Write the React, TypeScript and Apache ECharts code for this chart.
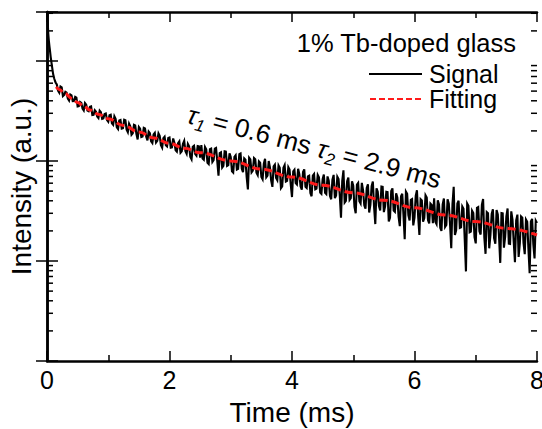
import React, { useEffect, useRef } from 'react';
import * as echarts from 'echarts';

const FONT = '"Liberation Sans", Arial, Helvetica, sans-serif';

// Axis ranges / ticks
const X_MIN = 0;
const X_MAX = 8;
const X_INTERVAL = 2;
const Y_MIN = 1;
const Y_MAX = 3090;
const yMinorTicks = [2, 3, 4, 5, 6, 7, 8, 9, 20, 30, 40, 50, 60, 70, 80, 90, 200, 300, 400, 500, 600, 700, 800, 900, 2000, 3000];

// Measured signal: initial spike (time in ms, intensity a.u.)
const signalHeadTime = [0, 0.01, 0.02, 0.03, 0.04, 0.05, 0.06, 0.08, 0.1, 0.12, 0.14];
const signalHead = [5000, 2600, 1900, 1600, 1400, 1250, 1100, 900, 740, 660, 610];

// Measured signal sampled every 0.02 ms from 0.16 ms:
// "on" samples at 0.16 + 0.04k, "mid" samples at 0.18 + 0.04k
const signalStart = 0.16;
const signalStep = 0.02;
const signalOnA = [582, 483, 545, 457, 482, 403, 454, 398, 430, 353, 382, 321, 366, 315, 351, 290, 310, 269, 308, 267, 299, 247];
const signalOnB = [290, 230, 264, 209, 257, 213, 256, 194, 222, 189, 227, 164, 211, 176, 212, 161, 190, 151, 191, 159, 179, 136, 175, 140, 172, 137, 152, 124, 157, 125, 159, 118, 140, 104, 142, 113, 140];
const signalOnC = [144, 103, 131, 93.3, 133, 102, 135, 71.4, 122, 89.3, 124, 90.8, 110, 76.7, 114, 83.6, 119, 77.4, 103, 52.0, 104, 80.0, 104, 72.4, 96.2, 65.6, 105, 71.4, 86.5, 55.1, 92.0, 64.3, 85.3, 55.6, 90.8, 63.4, 82.2, 43.6, 81.7, 58.3, 74.0, 51.6, 82.4, 53.7, 71.3, 44.4, 74.1, 53.0, 68.7, 46.9];
const signalOnD = [73.3, 46.7, 63.5, 41.4, 72.6, 45.2, 65.9, 27.1, 80.7, 39.9, 68.4, 42.6, 56.6, 30.0, 60.4, 37.6, 51.2, 33.3, 58.5, 36.4, 62.4, 23.4, 49.3, 32.1, 55.1, 35.1, 48.9, 27.1, 53.3, 31.0, 43.2, 22.3, 47.1, 16.5, 46.9, 25.4, 41.6, 27.1, 50.9, 18.2, 40.3, 26.9, 43.0, 23.8, 36.4];
const signalOnE = [42.3, 23.4, 36.7, 20.0, 42.1, 22.9, 37.5, 13.4, 55.3, 20.3, 40.0, 21.7, 33.2, 7.87, 35.6, 19.7, 30.2, 15.0, 34.6, 18.4, 41.6, 11.8, 30.1, 18.3, 32.9, 14.9, 29.2, 9.57, 29.9, 17.4, 33.5, 14.8, 25.9, 9.75, 29.1, 15.1, 27.1, 11.7, 24.7, 7.53, 26.4, 10.6, 24.0];
const signalMidA = [507, 556, 445, 491, 421, 463, 397, 438, 351, 389, 335, 380, 320, 348, 288, 321, 279, 319, 264, 295, 256, 287];
const signalMidB = [238, 280, 217, 254, 211, 259, 206, 236, 183, 230, 186, 219, 174, 215, 175, 197, 157, 184, 153, 189, 144, 169, 144, 170, 136, 168, 128, 151, 121, 149, 125, 148, 110, 139, 117, 141, 108];
const signalMidC = [106, 138, 96.2, 131, 97.7, 133, 99.3, 120, 85.9, 125, 89.3, 119, 79.1, 110, 82.2, 117, 83.6, 106, 69.0, 108, 76.9, 107, 76.4, 99.2, 69.2, 94.1, 68.7, 100, 63.7, 88.6, 67.8, 90.1, 53.5, 85.4, 62.4, 86.8, 57.8, 78.6, 60.1, 83.6, 55.7, 77.5, 55.3, 70.2, 47.9, 71.4, 52.1, 72.5, 48.3, 65.8];
const signalMidD = [48.1, 70.1, 44.7, 65.2, 42.5, 69.5, 45.3, 63.1, 38.4, 62.8, 40.9, 62.5, 34.7, 58.1, 39.6, 60.5, 36.0, 53.7, 30.5, 56.0, 34.8, 53.2, 35.5, 55.5, 30.8, 49.2, 24.9, 50.1, 31.9, 47.6, 27.7, 44.3, 28.8, 49.4, 28.7, 40.9, 22.7, 44.7, 27.8, 41.5, 24.7, 45.3, 25.7, 37.5, 23.9];
const signalMidE = [24.7, 40.5, 21.5, 36.9, 21.9, 41.4, 23.5, 36.8, 18.2, 37.6, 21.4, 35.0, 16.5, 37.5, 19.4, 31.8, 17.3, 34.0, 19.8, 36.4, 17.2, 30.9, 13.4, 29.5, 16.8, 32.3, 17.5, 30.1, 13.6, 28.0, 14.9, 31.4, 15.5, 25.5, 11.0, 27.9, 15.2, 26.0, 13.2, 24.8, 14.7, 25.3];

// Bi-exponential fitting curve
const fitTime = [0.15, 0.2, 0.3, 0.4, 0.5, 0.6, 0.7, 0.85, 1.0, 1.25, 1.5, 1.75, 2.0, 2.25, 2.5, 3.0, 3.5, 4.0, 4.5, 5.0, 5.5, 6.0, 6.5, 7.0, 7.5, 8.0];
const fitValue = [550, 518, 470, 424, 385, 352, 324, 292, 265, 226, 195, 170, 150, 134, 121, 100.2, 83.2, 69.0, 57.1, 48.1, 40.5, 34.0, 28.9, 24.8, 21.2, 18.2];

const seriesNames = ['Signal', 'Fitting'];
const titleText = '1% Tb-doped glass';

export default function App() {
  const ref = useRef<HTMLDivElement>(null);

  useEffect(() => {
    document.body.style.margin = '0';
    if (!ref.current) return;
    const chart = echarts.init(ref.current, undefined, { renderer: 'svg' });

    const on = [...signalOnA, ...signalOnB, ...signalOnC, ...signalOnD, ...signalOnE];
    const mid = [...signalMidA, ...signalMidB, ...signalMidC, ...signalMidD, ...signalMidE];
    const body: number[] = [];
    on.forEach((v, i) => {
      body.push(v);
      if (i < mid.length) body.push(mid[i]);
    });
    const signalData: number[][] = signalHeadTime.map((t, i) => [t, signalHead[i]]);
    body.forEach((v, i) => signalData.push([+(signalStart + i * signalStep).toFixed(2), v]));
    const fitData = fitTime.map((t, i) => [t, fitValue[i]]);

    const axisLine = { show: true, lineStyle: { color: '#000', width: 2.5 } };
    const tickStyle = { color: '#000', width: 1.5 };

    const option: any = {
      animation: false,
      backgroundColor: '#fff',
      grid: { left: 47, right: 5, top: 12, bottom: 68, containLabel: false, outerBoundsMode: 'none' },
      xAxis: [
        {
          type: 'value',
          min: X_MIN,
          max: X_MAX,
          interval: X_INTERVAL,
          position: 'bottom',
          name: 'Time (ms)',
          nameLocation: 'middle',
          nameGap: 37,
          nameTextStyle: { fontSize: 28, fontFamily: FONT, color: '#000' },
          axisLine,
          axisTick: { show: true, inside: true, length: 10, lineStyle: tickStyle },
          minorTick: { show: true, splitNumber: 2, length: 6, lineStyle: tickStyle },
          axisLabel: { fontSize: 25, fontFamily: FONT, color: '#000', margin: 6, showMaxLabel: true, showMinLabel: true },
          splitLine: { show: false },
        },
        {
          type: 'value',
          min: X_MIN,
          max: X_MAX,
          interval: X_INTERVAL,
          position: 'top',
          axisLine,
          axisTick: { show: true, inside: true, length: 10, lineStyle: tickStyle },
          minorTick: { show: true, splitNumber: 2, length: 6, lineStyle: tickStyle },
          axisLabel: { show: false },
          splitLine: { show: false },
        },
      ],
      yAxis: [
        {
          type: 'log',
          logBase: 10,
          min: Y_MIN,
          max: Y_MAX,
          position: 'left',
          name: 'Intensity (a.u.)',
          nameLocation: 'middle',
          nameGap: 12,
          nameTextStyle: { fontSize: 28, fontFamily: FONT, color: '#000' },
          axisLine,
          axisTick: { show: true, inside: true, length: 11, lineStyle: tickStyle },
          axisLabel: { show: false },
          splitLine: { show: false },
        },
        {
          type: 'log',
          logBase: 10,
          min: Y_MIN,
          max: Y_MAX,
          position: 'right',
          axisLine,
          axisTick: { show: true, inside: true, length: 11, lineStyle: tickStyle },
          axisLabel: { show: false },
          splitLine: { show: false },
        },
      ],
      series: [
        {
          name: seriesNames[0],
          type: 'line',
          data: signalData,
          showSymbol: false,
          symbol: 'none',
          clip: true,
          lineStyle: { color: '#000', width: 2.1, join: 'miter' },
          z: 2,
        },
        {
          name: seriesNames[1],
          type: 'line',
          data: fitData,
          showSymbol: false,
          symbol: 'none',
          smooth: 0.4,
          smoothMonotone: 'x',
          clip: true,
          lineStyle: { color: '#ff1a1a', width: 3, type: [8, 4] },
          z: 3,
        },
        {
          type: 'custom',
          silent: true,
          clip: false,
          z: 4,
          data: yMinorTicks.map((v) => [X_MIN, v]),
          renderItem: (_params: any, api: any) => {
            const v = api.value(1);
            const l = api.coord([X_MIN, v]);
            const r = api.coord([X_MAX, v]);
            return {
              type: 'group',
              children: [
                { type: 'line', shape: { x1: l[0], y1: l[1], x2: l[0] + 6, y2: l[1] }, style: { stroke: '#000', lineWidth: 1.5 } },
                { type: 'line', shape: { x1: r[0] - 6, y1: r[1], x2: r[0], y2: r[1] }, style: { stroke: '#000', lineWidth: 1.5 } },
              ],
            };
          },
        },
      ],
      graphic: [
        {
          type: 'text',
          x: 516,
          y: 43,
          style: { text: titleText, fontSize: 25.5, fontFamily: FONT, fill: '#000', align: 'right', verticalAlign: 'middle' },
        },
        { type: 'line', shape: { x1: 369, y1: 74, x2: 422, y2: 74 }, style: { stroke: '#000', lineWidth: 2 } },
        {
          type: 'text',
          x: 429,
          y: 74,
          style: { text: seriesNames[0], fontSize: 25, fontFamily: FONT, fill: '#000', align: 'left', verticalAlign: 'middle' },
        },
        { type: 'line', shape: { x1: 370, y1: 99, x2: 422, y2: 99 }, style: { stroke: '#ff1a1a', lineWidth: 2, lineDash: [6, 3] } },
        {
          type: 'text',
          x: 429,
          y: 99,
          style: { text: seriesNames[1], fontSize: 25, fontFamily: FONT, fill: '#000', align: 'left', verticalAlign: 'middle' },
        },
        {
          type: 'text',
          x: 188,
          y: 114,
          rotation: -0.255,
          style: {
            text: '{t|τ}{s|1}{n| = 0.6 ms }{t|τ}{s|2}{n| = 2.9 ms}',
            fill: '#000',
            align: 'left',
            verticalAlign: 'middle',
            rich: {
              t: { fontSize: 26, fontFamily: FONT, fontStyle: 'italic', lineHeight: 34, verticalAlign: 'middle', fill: '#000' },
              n: { fontSize: 26, fontFamily: FONT, lineHeight: 34, verticalAlign: 'middle', fill: '#000' },
              s: { fontSize: 17, fontFamily: FONT, fontStyle: 'italic', lineHeight: 18, verticalAlign: 'bottom', fill: '#000' },
            },
          },
        },
      ],
    };

    chart.setOption(option);
    return () => chart.dispose();
  }, []);

  return <div ref={ref} style={{ width: 542, height: 429 }} />;
}
